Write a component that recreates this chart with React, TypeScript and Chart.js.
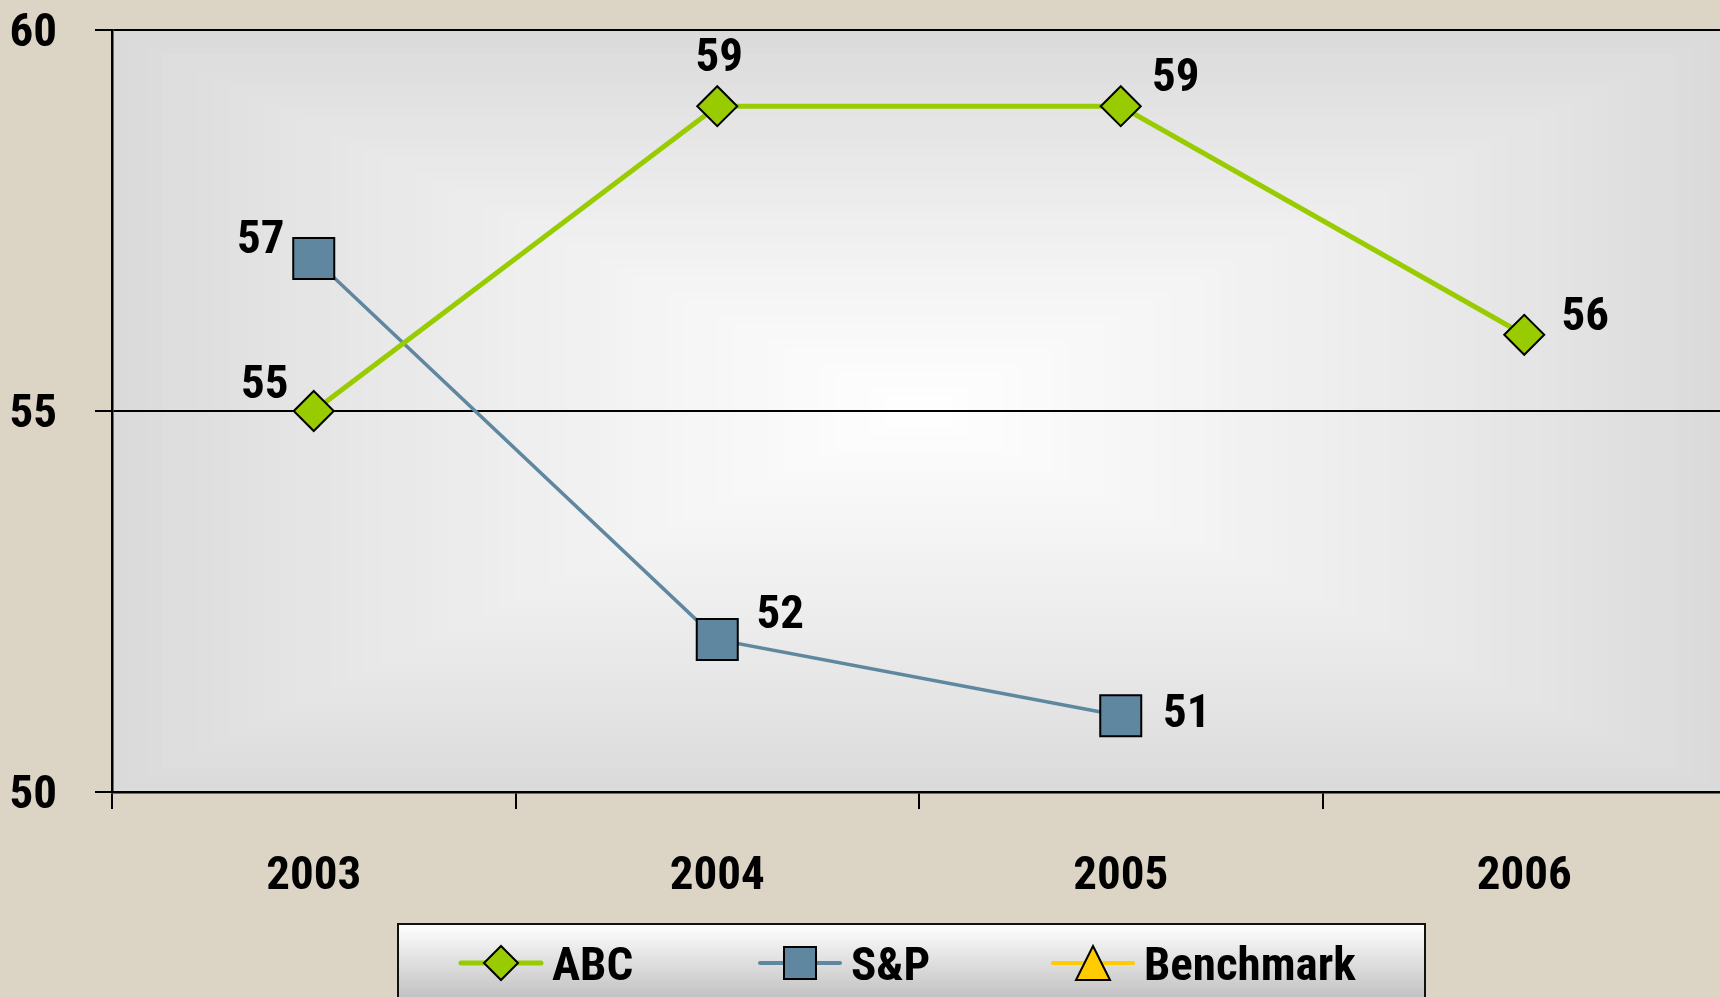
import { useEffect, useRef } from 'react';
import { Chart, registerables } from 'chart.js';

Chart.register(...registerables);

// ---------- data ----------
const categories = ['2003', '2004', '2005', '2006'];
const abcValues: (number | null)[] = [55, 59, 59, 56];
const spValues: (number | null)[] = [57, 52, 51, null];
const benchmarkValues: (number | null)[] = [null, null, null, null];
const yTickValues = [50, 55, 60];
const seriesNames = ['ABC', 'S&P', 'Benchmark'];

// ---------- label placement (relative to each point) ----------
const abcLabelOffsets = [[-49, -25], [2, -47], [55, -27], [61, -17]];
const spLabelOffsets = [[-53, -17], [63, -23], [66, -1], [0, 0]];

// ---------- styles ----------
const FONT_FAMILY = '"Liberation Sans Narrow", "Arial Narrow", "Roboto Condensed", "DejaVu Sans Condensed", sans-serif';
const FONT_SIZE = 47;
const BEIGE = '#DCD4C5';
const GREEN = '#99CC00';
const STEEL = '#5F87A0';
const GOLD = '#FFCC00';

const W = 1730;
const H = 997;

function lerpColor(a: number[], b: number[], t: number) {
  const c = a.map((v, i) => Math.round(v + (b[i] - v) * t));
  return `rgb(${c[0]},${c[1]},${c[2]})`;
}

const backgroundPlugin = {
  id: 'bgPlugin',
  beforeDraw(chart: any) {
    const { ctx, chartArea, width, height } = chart;
    const { left, top, right, bottom } = chartArea;
    ctx.save();
    ctx.fillStyle = BEIGE;
    ctx.fillRect(0, 0, width, height);
    const cx = (left + right) / 2;
    const cy = (top + bottom) / 2;
    const hw = (right - left) / 2;
    const hh = (bottom - top) / 2;
    const edge = [218, 218, 218];
    const center = [255, 255, 255];
    const N = 48;
    for (let i = 0; i < N; i++) {
      const t = i / N;
      ctx.fillStyle = lerpColor(edge, center, Math.pow(t, 0.85));
      const s = 1 - t;
      ctx.fillRect(cx - hw * s, cy - hh * s, 2 * hw * s, 2 * hh * s);
    }
    ctx.restore();
  },
};

const labelsPlugin = {
  id: 'valueLabels',
  afterDatasetsDraw(chart: any) {
    const { ctx } = chart;
    const offsetsBySet = [abcLabelOffsets, spLabelOffsets, []];
    ctx.save();
    ctx.font = `bold ${FONT_SIZE}px ${FONT_FAMILY}`;
    ctx.fillStyle = '#000';
    ctx.textAlign = 'center';
    ctx.textBaseline = 'middle';
    chart.data.datasets.forEach((ds: any, di: number) => {
      const meta = chart.getDatasetMeta(di);
      meta.data.forEach((pt: any, i: number) => {
        const v = ds.data[i];
        if (v === null || v === undefined) return;
        const off = (offsetsBySet[di] && offsetsBySet[di][i]) || [0, -40];
        ctx.fillText(String(v), pt.x + off[0], pt.y + off[1]);
      });
    });
    ctx.restore();
  },
};

function drawMarker(ctx: CanvasRenderingContext2D, style: string, x: number, y: number, size: number, fill: string) {
  ctx.beginPath();
  if (style === 'rectRot') {
    ctx.moveTo(x - size, y);
    ctx.lineTo(x, y - size);
    ctx.lineTo(x + size, y);
    ctx.lineTo(x, y + size);
    ctx.closePath();
  } else if (style === 'rect') {
    ctx.rect(x - size, y - size, 2 * size, 2 * size);
  } else {
    ctx.moveTo(x, y - size);
    ctx.lineTo(x + size, y + size);
    ctx.lineTo(x - size, y + size);
    ctx.closePath();
  }
  ctx.fillStyle = fill;
  ctx.fill();
  ctx.lineWidth = 2;
  ctx.strokeStyle = '#000';
  ctx.stroke();
}

const legendPlugin = {
  id: 'customLegend',
  afterDraw(chart: any) {
    const { ctx } = chart;
    const boxL = 398, boxR = 1425, boxT = 924, boxB = 1010;
    ctx.save();
    const g = ctx.createLinearGradient(0, boxT, 0, 997);
    g.addColorStop(0, '#FFFFFF');
    g.addColorStop(1, '#C2C2C2');
    ctx.fillStyle = g;
    ctx.fillRect(boxL, boxT, boxR - boxL, boxB - boxT);
    ctx.lineWidth = 2;
    ctx.strokeStyle = '#111';
    ctx.strokeRect(boxL, boxT, boxR - boxL, boxB - boxT);

    const itemCenters = [501, 800, 1093];
    const markerSizes = [17, 16, 17];
    const lineWidths = [5, 4, 4];
    const y = 963;
    chart.data.datasets.forEach((ds: any, i: number) => {
      const cx = itemCenters[i];
      ctx.lineCap = 'round';
      ctx.strokeStyle = ds.borderColor;
      ctx.lineWidth = lineWidths[i];
      ctx.beginPath();
      ctx.moveTo(cx - 40, y);
      ctx.lineTo(cx + 40, y);
      ctx.stroke();
      ctx.lineCap = 'butt';
      drawMarker(ctx, ds.pointStyle, cx, y, markerSizes[i], ds.pointBackgroundColor);
      ctx.font = `bold ${FONT_SIZE}px ${FONT_FAMILY}`;
      ctx.fillStyle = '#000';
      ctx.textAlign = 'left';
      ctx.textBaseline = 'middle';
      ctx.fillText(ds.label, cx + 51, y + 5);
    });
    ctx.restore();
  },
};

export default function App() {
  const canvasRef = useRef<HTMLCanvasElement | null>(null);

  useEffect(() => {
    const canvas = canvasRef.current;
    if (!canvas) return;
    const font = { family: FONT_FAMILY, size: FONT_SIZE, weight: 'bold' as const };
    const chart = new Chart(canvas, {
      type: 'line',
      data: {
        labels: categories,
        datasets: [
          {
            label: seriesNames[0],
            data: abcValues,
            borderColor: GREEN,
            backgroundColor: GREEN,
            borderWidth: 5,
            pointStyle: 'rectRot',
            pointRadius: 20,
            pointHoverRadius: 20,
            pointBackgroundColor: GREEN,
            pointBorderColor: '#000',
            pointBorderWidth: 2,
            tension: 0,
          },
          {
            label: seriesNames[1],
            data: spValues,
            borderColor: STEEL,
            backgroundColor: STEEL,
            borderWidth: 3.5,
            pointStyle: 'rect',
            pointRadius: 29,
            pointHoverRadius: 29,
            pointBackgroundColor: STEEL,
            pointBorderColor: '#000',
            pointBorderWidth: 2,
            tension: 0,
          },
          {
            label: seriesNames[2],
            data: benchmarkValues,
            borderColor: GOLD,
            backgroundColor: GOLD,
            borderWidth: 4,
            pointStyle: 'triangle',
            pointRadius: 20,
            pointBackgroundColor: GOLD,
            pointBorderColor: '#000',
            pointBorderWidth: 2,
          },
        ],
      } as any,
      options: {
        animation: false,
        responsive: false,
        devicePixelRatio: 1,
        layout: { autoPadding: false, padding: { top: 30, right: 4, left: 0, bottom: 0 } },
        plugins: {
          legend: { display: false },
          tooltip: { enabled: false },
        },
        scales: {
          x: {
            type: 'category',
            offset: true,
            grid: {
              offset: true,
              drawOnChartArea: false,
              drawTicks: true,
              tickLength: 17,
              color: '#000',
              lineWidth: 2,
            },
            border: { display: true, color: '#000', width: 2.5 },
            ticks: { font, color: '#000', padding: 40, maxRotation: 0 },
            afterFit: (s: any) => {
              s.height = 205;
              s.paddingLeft = 0;
              s.paddingRight = 0;
              s.paddingTop = 0;
              s.paddingBottom = 0;
            },
          },
          y: {
            min: 50,
            max: 60,
            afterBuildTicks: (s: any) => {
              s.ticks = yTickValues.map((v) => ({ value: v }));
            },
            grid: {
              color: '#000',
              lineWidth: 2,
              drawTicks: true,
              tickLength: 17,
            },
            border: { display: true, color: '#000', width: 2.5 },
            ticks: { font, color: '#000', padding: 38, labelOffset: 4 },
            afterFit: (s: any) => {
              s.width = 112;
              s.paddingTop = 0;
              s.paddingBottom = 0;
              s.paddingLeft = 0;
              s.paddingRight = 0;
            },
          },
        },
      } as any,
      plugins: [backgroundPlugin, labelsPlugin, legendPlugin],
    });
    return () => chart.destroy();
  }, []);

  return (
    <div
      style={{
        position: 'fixed',
        left: 0,
        top: 0,
        width: 1720,
        height: 997,
        overflow: 'hidden',
        background: BEIGE,
      }}
    >
      <canvas ref={canvasRef} width={W} height={H} style={{ display: 'block', width: W, height: H }} />
    </div>
  );
}
